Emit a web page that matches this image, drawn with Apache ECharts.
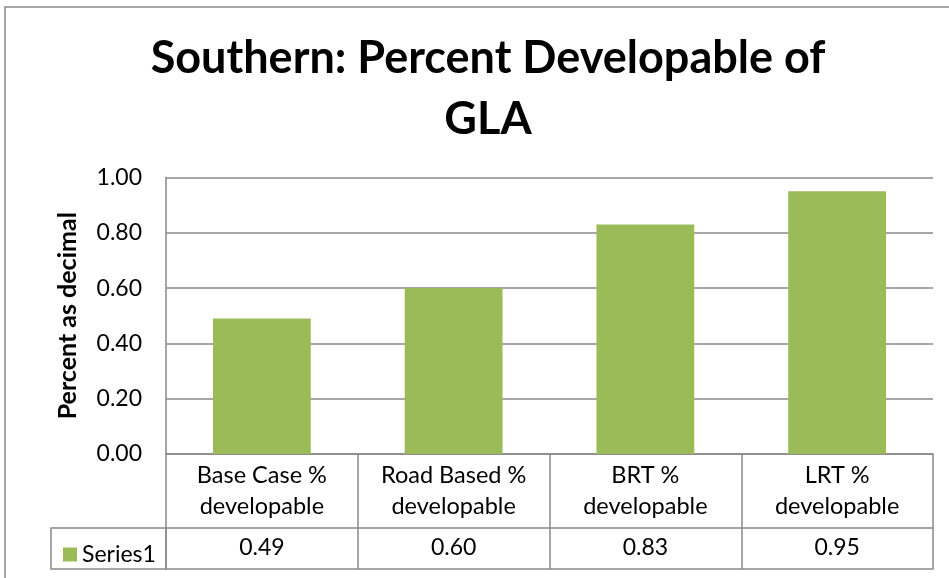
<!DOCTYPE html>
<html>
<head>
<meta charset="utf-8">
<script src="https://cdn.jsdelivr.net/npm/echarts@6/dist/echarts.min.js"></script>
<style>
  html, body { margin: 0; padding: 0; background: #fff; }
  #chart { width: 949px; height: 578px; }
</style>
</head>
<body>
<div id="chart"></div>
<script>
// Chart data
const titleText = 'Southern: Percent Developable of\nGLA';
const yAxisName = 'Percent as decimal';
const seriesName = 'Series1';
const categories = ['Base Case %\ndevelopable', 'Road Based %\ndevelopable', 'BRT %\ndevelopable', 'LRT %\ndevelopable'];
const values = [0.49, 0.60, 0.83, 0.95];

const FONT = 'Lato, "Open Sans", sans-serif';
const LINE = '#898989';
const GREEN = '#9BBB59';

const chart = echarts.init(document.getElementById('chart'), null, { renderer: 'canvas' });

// Table geometry (data table under the plot)
const gridLeft = 166, gridRight = 16, gridTop = 177.5, gridBottom = 124;
const rowCat = 74;   // height of category row
const rowVal = 41;   // height of value row
const legendCellLeft = 51;

const option = {
  animation: false,
  backgroundColor: '#fff',
  title: {
    text: titleText,
    left: 483,
    textAlign: 'center',
    top: 23,
    textStyle: { fontFamily: FONT, fontWeight: 'bold', fontSize: 45, lineHeight: 61, color: '#000' }
  },
  legend: {
    data: [seriesName],
    left: 58,
    top: 538,
    itemWidth: 14,
    itemHeight: 14,
    icon: 'rect',
    itemGap: 8,
    textStyle: { fontFamily: FONT, fontSize: 23, color: '#000' }
  },
  grid: { left: gridLeft, right: gridRight, top: gridTop, bottom: gridBottom, containLabel: false },
  xAxis: [
    {
      type: 'category',
      data: categories,
      position: 'bottom',
      axisLine: { show: true, lineStyle: { color: LINE, width: 1.5 } },
      axisTick: { show: true, alignWithLabel: false, length: rowCat + rowVal, lineStyle: { color: LINE, width: 1.5 } },
      axisLabel: { fontFamily: FONT, fontSize: 23.5, lineHeight: 31, color: '#000', margin: 6, interval: 0 }
    },
    {
      type: 'category',
      data: values.map(v => v.toFixed(2)),
      position: 'bottom',
      offset: rowCat,
      axisLine: { show: true, lineStyle: { color: LINE, width: 1.5 } },
      axisTick: { show: false },
      axisLabel: { fontFamily: FONT, fontSize: 23, color: '#000', margin: 8, interval: 0 }
    },
    {
      type: 'category',
      data: categories,
      position: 'bottom',
      offset: rowCat + rowVal,
      axisLine: { show: true, lineStyle: { color: LINE, width: 1.5 } },
      axisTick: { show: false },
      axisLabel: { show: false }
    }
  ],
  yAxis: {
    type: 'value',
    min: 0,
    max: 1,
    interval: 0.2,
    name: yAxisName,
    nameLocation: 'middle',
    nameGap: 86,
    nameTextStyle: { fontFamily: FONT, fontWeight: 'bold', fontSize: 25, color: '#000' },
    axisLine: { show: true, lineStyle: { color: LINE, width: 1.5 } },
    axisTick: { show: false },
    axisLabel: { fontFamily: FONT, fontSize: 23, color: '#000', margin: 24, formatter: v => v.toFixed(2) },
    splitLine: { show: true, lineStyle: { color: LINE, width: 1.5 } }
  },
  series: [
    {
      name: seriesName,
      type: 'bar',
      data: values,
      xAxisIndex: 0,
      barCategoryGap: '49%',
      itemStyle: { color: GREEN }
    }
  ]
};

chart.setOption(option);

// Outer chart border and the legend cell of the data table
const zeroY = 578 - gridBottom;
chart.setOption({
  graphic: [
    {
      type: 'rect',
      shape: { x: 5, y: 7, width: 1000, height: 1000 },
      style: { fill: null, stroke: LINE, lineWidth: 1.5 },
      silent: true
    },
    {
      type: 'rect',
      shape: { x: legendCellLeft, y: zeroY + rowCat, width: gridLeft - legendCellLeft, height: rowVal },
      style: { fill: null, stroke: LINE, lineWidth: 1.5 },
      silent: true
    }
  ]
});
</script>
</body>
</html>
